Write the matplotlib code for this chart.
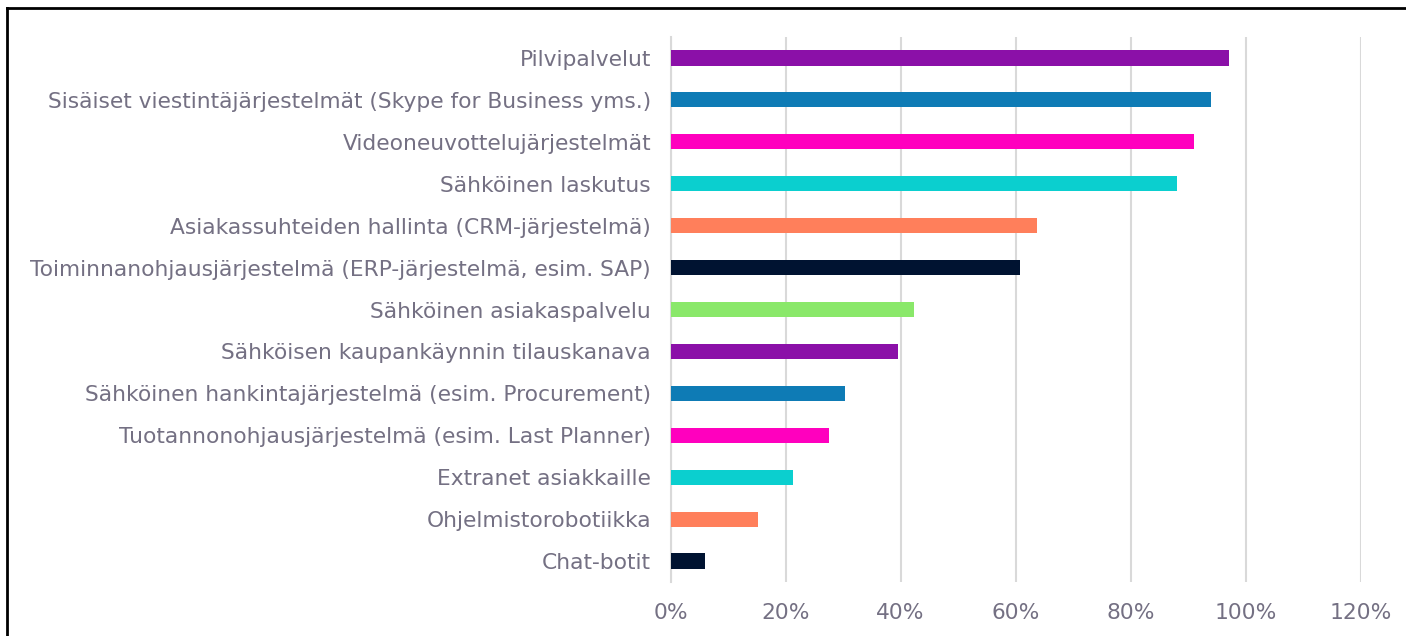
import matplotlib.pyplot as plt
from matplotlib.lines import Line2D
from matplotlib.ticker import PercentFormatter

# categories from top to bottom, as in the chart
categories = [
    'Pilvipalvelut',
    'Sisäiset viestintäjärjestelmät (Skype for Business yms.)',
    'Videoneuvottelujärjestelmät',
    'Sähköinen laskutus',
    'Asiakassuhteiden hallinta (CRM-järjestelmä)',
    'Toiminnanohjausjärjestelmä (ERP-järjestelmä, esim. SAP)',
    'Sähköinen asiakaspalvelu',
    'Sähköisen kaupankäynnin tilauskanava',
    'Sähköinen hankintajärjestelmä (esim. Procurement)',
    'Tuotannonohjausjärjestelmä (esim. Last Planner)',
    'Extranet asiakkaille',
    'Ohjelmistorobotiikka',
    'Chat-botit',
]
shares = [0.97, 0.94, 0.91, 0.88, 0.637, 0.607, 0.424, 0.395, 0.304, 0.275, 0.213, 0.152, 0.06]
colors = ['#8B10A8', '#0E7BB5', '#FF00BE', '#0BCFCF', '#FF7F5B', '#001331', '#8AE86A',
          '#8B10A8', '#0E7BB5', '#FF00BE', '#0BCFCF', '#FF7F5B', '#001331']
x_ticks = [0, 0.2, 0.4, 0.6, 0.8, 1.0, 1.2]

text_col = '#747083'
grid_col = '#D9D9D9'

fig = plt.figure(figsize=(14.06, 6.36), dpi=100)
ax = fig.add_axes([0.4769, 0.0849, 0.4910, 0.8569])

pos = list(range(len(categories)))
ax.barh(pos, shares, height=0.36, color=colors, zorder=3)

ax.set_xlim(0, 1.2)
ax.set_ylim(len(categories) - 0.5, -0.5)
ax.set_xticks(x_ticks)
ax.xaxis.set_major_formatter(PercentFormatter(1.0, decimals=0))
ax.set_yticks(pos)
ax.set_yticklabels(categories)

ax.grid(axis='x', color=grid_col, linewidth=1.5, zorder=0)
for s in ['top', 'right', 'bottom']:
    ax.spines[s].set_visible(False)
ax.spines['left'].set_color(grid_col)
ax.spines['left'].set_linewidth(1.5)

ax.tick_params(axis='both', length=0, labelcolor=text_col)
ax.tick_params(axis='y', pad=14, labelsize=15.7)
ax.tick_params(axis='x', pad=15, labelsize=15.7)

# outer frame (only top and left edges are visible in the picture)
fig.add_artist(Line2D([7 / 1406, 1.0], [1 - 7.5 / 636, 1 - 7.5 / 636], color='black', linewidth=2))
fig.add_artist(Line2D([7 / 1406, 7 / 1406], [0.0, 1 - 7.5 / 636], color='black', linewidth=2))

fig.savefig('out.png', dpi=100)
